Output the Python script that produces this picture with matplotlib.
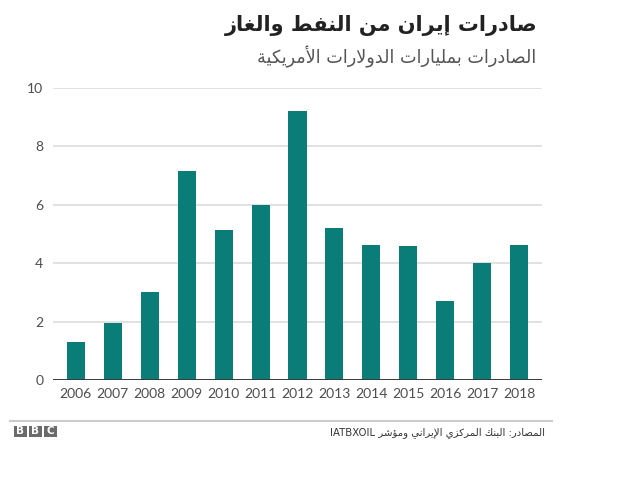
import matplotlib
matplotlib.use("Agg")
import matplotlib.pyplot as plt
from matplotlib.patches import Rectangle
from matplotlib.lines import Line2D

# ---------------- data ----------------
years = ["2006", "2007", "2008", "2009", "2010", "2011", "2012",
         "2013", "2014", "2015", "2016", "2017", "2018"]
exports = [1.29, 1.96, 3.0, 7.15, 5.12, 6.01, 9.22,
           5.22, 4.61, 4.58, 2.71, 4.01, 4.64]
y_ticks = [0, 2, 4, 6, 8, 10]

title_text = "صادرات إيران من النفط والغاز"
subtitle_text = "الصادرات بمليارات الدولارات الأمريكية"
source_text = "المصادر: البنك المركزي الإيراني ومؤشر IATBXOIL"

# ---------------- minimal Arabic shaping ----------------
DUAL = {
    'ئ': 0xFE89, 'ب': 0xFE8F, 'ت': 0xFE95, 'ث': 0xFE99, 'ج': 0xFE9D,
    'ح': 0xFEA1, 'خ': 0xFEA5, 'س': 0xFEB1, 'ش': 0xFEB5, 'ص': 0xFEB9,
    'ض': 0xFEBD, 'ط': 0xFEC1, 'ظ': 0xFEC5, 'ع': 0xFEC9, 'غ': 0xFECD,
    'ف': 0xFED1, 'ق': 0xFED5, 'ك': 0xFED9, 'ل': 0xFEDD, 'م': 0xFEE1,
    'ن': 0xFEE5, 'ه': 0xFEE9, 'ي': 0xFEF1,
}
RIGHT = {
    'ا': 0xFE8D, 'أ': 0xFE83, 'إ': 0xFE87, 'آ': 0xFE81, 'ؤ': 0xFE85,
    'ة': 0xFE93, 'د': 0xFEA9, 'ذ': 0xFEAB, 'ر': 0xFEAD, 'ز': 0xFEAF,
    'و': 0xFEED, 'ى': 0xFEEF,
}
LAMALEF = {'ا': 0xFEFB, 'أ': 0xFEF7, 'إ': 0xFEF9, 'آ': 0xFEF5}


def is_arabic(ch):
    return ch in DUAL or ch in RIGHT


def shape_word(word):
    units = []
    i = 0
    while i < len(word):
        c = word[i]
        if c == 'ل' and i + 1 < len(word) and word[i + 1] in LAMALEF:
            units.append(('LA', word[i + 1]))
            i += 2
        else:
            units.append(('C', c))
            i += 1

    def joins_forward(u):
        return u[0] == 'C' and u[1] in DUAL

    def joinable(u):
        return u[0] == 'LA' or is_arabic(u[1])

    out = []
    for k, u in enumerate(units):
        prev_j = k > 0 and joins_forward(units[k - 1]) and joinable(u)
        if u[0] == 'LA':
            base = LAMALEF[u[1]]
            out.append(chr(base + (1 if prev_j else 0)))
            continue
        c = u[1]
        next_j = (c in DUAL and k + 1 < len(units) and joinable(units[k + 1]))
        if c in DUAL:
            base = DUAL[c]
            if prev_j and next_j:
                out.append(chr(base + 3))
            elif next_j:
                out.append(chr(base + 2))
            elif prev_j:
                out.append(chr(base + 1))
            else:
                out.append(chr(base))
        elif c in RIGHT:
            base = RIGHT[c]
            out.append(chr(base + (1 if prev_j else 0)))
        else:
            out.append(c)
    return ''.join(reversed(out))


def rtl(text):
    tokens = text.split(' ')
    shaped = [shape_word(t) if any(is_arabic(ch) for ch in t) else t
              for t in tokens]
    return ' '.join(reversed(shaped))


# ---------------- figure ----------------
W, H = 640, 484
fig = plt.figure(figsize=(6.4, 4.84), dpi=100)
fig.patch.set_facecolor("white")

ax = fig.add_axes([53 / W, 1 - 380 / H, (542 - 53) / W, (380 - 88) / H])
x = list(range(len(years)))
ax.bar(x, exports, width=0.49, color="#0a7d79", zorder=3)

ax.set_xlim(-0.62, len(years) - 1 + 0.62)
ax.set_ylim(0, 10)
ax.set_yticks(y_ticks)
ax.set_yticklabels([str(v) for v in y_ticks])
ax.set_xticks(x)
ax.set_xticklabels(years)
ax.grid(axis="y", color="#dedede", linewidth=1.3, zorder=0)
ax.axhline(0, color="#3a3a3a", linewidth=1.4, zorder=4)
for s in ax.spines.values():
    s.set_visible(False)
ax.tick_params(axis="both", length=0, labelsize=10, colors="#4d4d4d",
               labelfontfamily="Lato")
ax.tick_params(axis="y", pad=7)
ax.tick_params(axis="x", pad=6)

# titles
fig.text(538 / W, 1 - 26 / H, rtl(title_text), ha="right", va="center",
         fontsize=15, fontweight="bold", color="#222222",
         family="DejaVu Sans")
fig.text(536 / W, 1 - 57 / H, rtl(subtitle_text), ha="right", va="center",
         fontsize=12.7, color="#555555", family="DejaVu Sans")

# footer line
fig.add_artist(Line2D([10 / W, 552 / W], [1 - 421 / H, 1 - 421 / H],
                      transform=fig.transFigure, color="#cccccc",
                      linewidth=1.5))

# BBC blocks
bw, gap = 12.5 / W, 2.5 / W
bh = 11 / H
bx0 = 14 / W
by0 = 1 - 437 / H
for i, letter in enumerate("BBC"):
    bx = bx0 + i * (bw + gap)
    fig.add_artist(Rectangle((bx, by0), bw, bh, transform=fig.transFigure,
                             facecolor="#6b6b6b", edgecolor="none"))
    fig.text(bx + bw / 2, by0 + bh / 2, letter, ha="center", va="center",
             fontsize=7.5, fontweight="bold", color="white",
             family="DejaVu Sans")

# source
fig.text(545 / W, 1 - 433 / H, rtl(source_text), ha="right", va="center",
         fontsize=7.3, color="#333333", family="DejaVu Sans")

fig.savefig("out.png", dpi=100, facecolor="white")
